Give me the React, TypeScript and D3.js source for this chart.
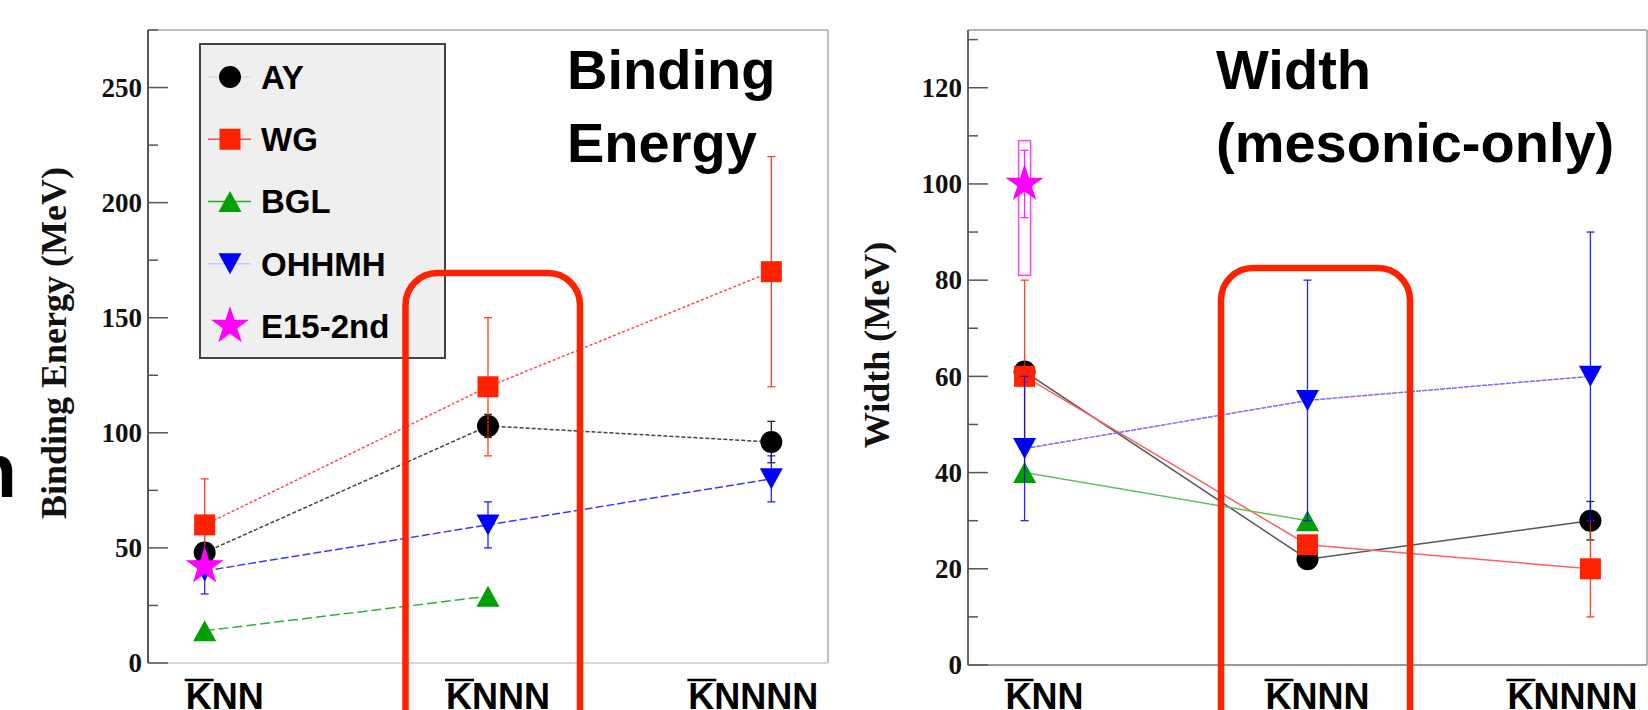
import React from 'react';
import * as d3 from 'd3';

// ---------- data ----------
const categories = ['KNN', 'KNNN', 'KNNNN'];
const seriesNames = ['AY', 'WG', 'BGL', 'OHHMH', 'E15-2nd'];
const seriesColors = ['#000000', '#ff2200', '#00a000', '#0000ff', '#ff00ff'];
const seriesMarkers = ['circle', 'square', 'triUp', 'triDown', 'star'];

// Binding energy (MeV)
const beAY = [48, 103, 96];
const beAYErr = [0, 5, 9];
const beWG = [60, 120, 170];
const beWGErr = [20, 30, 50];
const beBGL = [14, 29, null];
const beBGLErr = [0, 0, 0];
const beOHHMH = [40, 60, 80];
const beOHHMHErr = [10, 10, 10];
const beE15 = [42, null, null];
const beE15Err = [0, 0, 0];

// Width (MeV)
const wAY = [61, 22, 30];
const wAYErr = [0, 0, 4];
const wWG = [60, 25, 20];
const wWGErr = [20, 0, 10];
const wBGL = [40, 30, null];
const wBGLErr = [0, 0, 0];
const wOHHMH = [45, 55, 60];
const wOHHMHErr = [15, 25, 30];
const wE15 = [100, null, null];
const wE15Err = [7, 0, 0];
const wE15SysLow = [81];
const wE15SysHigh = [109];

const beTicks = [0, 50, 100, 150, 200, 250];
const beMinorStep = 25;
const wTicks = [0, 20, 40, 60, 80, 100, 120];
const wMinorStep = 10;

const SANS = "'Liberation Sans', Arial, Helvetica, sans-serif";
const SERIF = "'Liberation Serif', 'Times New Roman', serif";
const BIG_RED = '#ff2200';

// ---------- helpers ----------
function Marker({ type, x, y, color }: { type: string; x: number; y: number; color: string }) {
  if (type === 'circle') {
    const p = d3.symbol(d3.symbolCircle, 380)();
    return <path d={p || ''} transform={`translate(${x},${y})`} fill={color} />;
  }
  if (type === 'square') {
    const p = d3.symbol(d3.symbolSquare, 441)();
    return <path d={p || ''} transform={`translate(${x},${y})`} fill={color} />;
  }
  if (type === 'star') {
    const p = d3.symbol(d3.symbolStar, 449)();
    return <path d={p || ''} transform={`translate(${x},${y})`} fill={color} />;
  }
  const hw = 11.5, hh = 10.5;
  const path = d3.path();
  if (type === 'triUp') {
    path.moveTo(x, y - hh); path.lineTo(x + hw, y + hh); path.lineTo(x - hw, y + hh); path.closePath();
  } else {
    path.moveTo(x, y + hh); path.lineTo(x + hw, y - hh); path.lineTo(x - hw, y - hh); path.closePath();
  }
  return <path d={path.toString()} fill={color} />;
}

type Series = { values: (number | null)[]; errs: number[] };

function Panel(props: {
  x0: number; x1: number; y0: number; y1: number; ymax: number;
  ticks: number[]; minorStep: number; series: Series[];
  lineDash: string[]; lineColors: string[]; lineWidth: number;
  yLabel: string; yLabelX: number; yLabelY: number;
  title: string[]; titleX: number;
  frameColors: { left: string; bottom: string; top: string; right: string };
  extra?: (x: d3.ScaleLinear<number, number>, y: d3.ScaleLinear<number, number>) => React.ReactNode;
}) {
  const { x0, x1, y0, y1, ymax } = props;
  const x = d3.scaleLinear().domain([-0.2, 2.2]).range([x0, x1]);
  const y = d3.scaleLinear().domain([0, ymax]).range([y1, y0]);
  const minor = d3.range(0, ymax + 0.001, props.minorStep).filter((v) => !props.ticks.includes(v));
  const labelShift = [-19, -42, -83];

  return (
    <g>
      {/* frame */}
      <line x1={x0} x2={x1} y1={y0} y2={y0} stroke={props.frameColors.top} strokeWidth={1.5} />
      <line x1={x1} x2={x1} y1={y0} y2={y1} stroke={props.frameColors.right} strokeWidth={1.5} />
      <line x1={x0} x2={x1} y1={y1} y2={y1} stroke={props.frameColors.bottom} strokeWidth={2} />
      <line x1={x0} x2={x0} y1={y0} y2={y1} stroke={props.frameColors.left} strokeWidth={2} />
      {/* ticks */}
      {props.ticks.map((t) => (
        <g key={'t' + t}>
          <line x1={x0} x2={x0 + 20} y1={y(t)} y2={y(t)} stroke="#555" strokeWidth={1.5} />
          <text x={x0 - 6} y={y(t)} dy="0.34em" textAnchor="end" fontFamily={SERIF} fontWeight="bold" fontSize={27} fill="#111">
            {t}
          </text>
        </g>
      ))}
      {minor.map((t) => (
        <line key={'m' + t} x1={x0} x2={x0 + 10} y1={y(t)} y2={y(t)} stroke="#555" strokeWidth={1.5} />
      ))}
      {/* y label */}
      <text
        transform={`translate(${props.yLabelX},${props.yLabelY}) rotate(-90)`}
        textAnchor="middle" fontFamily={SERIF} fontWeight="bold" fontSize={36} fill="#111"
      >
        {props.yLabel}
      </text>
      {/* title */}
      {props.title.map((t, i) => (
        <text key={t} x={props.titleX} y={89 + i * 73} fontFamily={SANS} fontWeight="bold" fontSize={56} fill="#000">
          {t}
        </text>
      ))}
      {/* category labels */}
      {categories.map((c, i) => {
        const lx = x(i) + labelShift[i];
        return (
          <g key={c}>
            <line x1={lx - 1} x2={lx + 28} y1={680} y2={680} stroke="#000" strokeWidth={2.5} />
            <text x={lx} y={709} fontFamily={SANS} fontWeight="bold" fontSize={36} fill="#000">
              {c}
            </text>
          </g>
        );
      })}
      {/* lines */}
      {props.series.map((s, si) => {
        const pts = s.values.map((v, i) => [i, v] as [number, number | null]).filter((d) => d[1] !== null) as [number, number][];
        if (pts.length < 2) return null;
        const line = d3.line<[number, number]>().x((d) => x(d[0])).y((d) => y(d[1]));
        return (
          <path key={'l' + si} d={line(pts) || ''} fill="none" stroke={props.lineColors[si]}
            strokeWidth={props.lineWidth} strokeDasharray={props.lineDash[si]} />
        );
      })}
      {props.extra ? props.extra(x, y) : null}
      {/* error bars and markers */}
      {props.series.map((s, si) => (
        <g key={'s' + si}>
          {s.values.map((v, i) => {
            if (v === null) return null;
            const e = s.errs[i];
            const cx = x(i);
            return (
              <g key={i}>
                {e > 0 && (
                  <g stroke={seriesColors[si]} strokeWidth={1.3} opacity={0.85}>
                    <line x1={cx} x2={cx} y1={y(v - e)} y2={y(v + e)} />
                    <line x1={cx - 4} x2={cx + 4} y1={y(v - e)} y2={y(v - e)} />
                    <line x1={cx - 4} x2={cx + 4} y1={y(v + e)} y2={y(v + e)} />
                  </g>
                )}
                <Marker type={seriesMarkers[si]} x={cx} y={y(v)} color={seriesColors[si]} />
              </g>
            );
          })}
        </g>
      ))}
    </g>
  );
}

function Legend() {
  const rows = d3.scaleLinear().domain([0, 4]).range([77, 326]);
  const legendLine = ['#dddddd', '#ff5050', '#20b020', '#c8c8ff', 'none'];
  return (
    <g>
      <rect x={200} y={44} width={245} height={314} fill="#efefef" stroke="#444" strokeWidth={2} />
      {seriesNames.map((n, i) => (
        <g key={n}>
          {legendLine[i] !== 'none' && (
            <line x1={208} x2={251} y1={rows(i)} y2={rows(i)} stroke={legendLine[i]} strokeWidth={1.5} />
          )}
          <Marker type={seriesMarkers[i]} x={230} y={rows(i)} color={seriesColors[i]} />
          <text x={261} y={rows(i)} dy="0.36em" fontFamily={SANS} fontWeight="bold" fontSize={33} fill="#000">
            {n}
          </text>
        </g>
      ))}
    </g>
  );
}

export default function App() {
  const beSeries: Series[] = [
    { values: beAY, errs: beAYErr },
    { values: beWG, errs: beWGErr },
    { values: beBGL, errs: beBGLErr },
    { values: beOHHMH, errs: beOHHMHErr },
    { values: beE15, errs: beE15Err },
  ];
  const wSeries: Series[] = [
    { values: wAY, errs: wAYErr },
    { values: wWG, errs: wWGErr },
    { values: wBGL, errs: wBGLErr },
    { values: wOHHMH, errs: wOHHMHErr },
    { values: wE15, errs: wE15Err },
  ];
  return (
    <svg width={1648} height={710} style={{ position: 'absolute', left: 0, top: 0, background: '#fff' }}>
      <rect x={0} y={0} width={1648} height={710} fill="#fff" />
      {/* cut-off slide text at the left edge */}
      <text x={17} y={497} textAnchor="end" fontFamily={SANS} fontWeight="bold" fontSize={76} fill="#000">n</text>

      <Panel
        x0={148} x1={828} y0={30} y1={663} ymax={275}
        ticks={beTicks} minorStep={beMinorStep} series={beSeries}
        lineDash={['4,2', '3,2', '10,4', '8,3', '0']}
        lineColors={['#444', '#ff4a4a', '#30b030', '#3a3aff', 'none']}
        lineWidth={1.5}
        yLabel="Binding Energy (MeV)" yLabelX={66} yLabelY={343}
        title={['Binding', 'Energy']} titleX={567}
        frameColors={{ left: '#555', bottom: '#d8d8d8', top: '#aaa', right: '#aaa' }}
      />
      <Legend />

      <Panel
        x0={968} x1={1647} y0={30} y1={665} ymax={132}
        ticks={wTicks} minorStep={wMinorStep} series={wSeries}
        lineDash={['none', 'none', 'none', '5,1', 'none']}
        lineColors={['#555', '#ff6060', '#60c060', '#7070ff', 'none']}
        lineWidth={1.5}
        yLabel="Width (MeV)" yLabelX={889} yLabelY={345}
        title={['Width', '(mesonic-only)']} titleX={1216}
        frameColors={{ left: '#666', bottom: '#999', top: '#999', right: '#999' }}
        extra={(x, y) => (
          <rect x={x(0) - 6} width={12} y={y(wE15SysHigh[0])} height={y(wE15SysLow[0]) - y(wE15SysHigh[0])}
            fill="none" stroke="#ff40ff" strokeWidth={1.5} />
        )}
      />

      {/* highlight boxes */}
      <rect x={405.5} y={273} width={174.5} height={500} rx={32} fill="none" stroke={BIG_RED} strokeWidth={6.5} />
      <rect x={1221} y={268} width={189} height={500} rx={32} fill="none" stroke={BIG_RED} strokeWidth={6.5} />
    </svg>
  );
}
